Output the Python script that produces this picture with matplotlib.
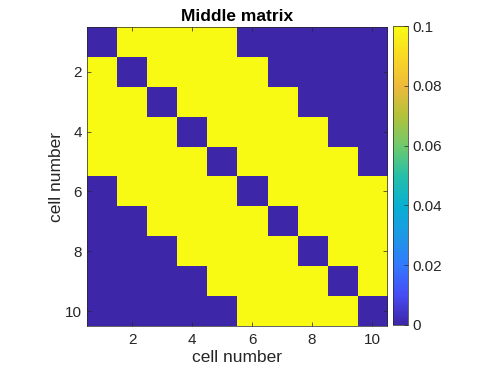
import numpy as np
import matplotlib
matplotlib.use('Agg')
import matplotlib.pyplot as plt
from matplotlib.colors import LinearSegmentedColormap

# cell indices and connection weight
cells = list(range(1, 11))
weight = 0.1
reach = 4  # neighbours within this distance are connected

matrix = np.array([[weight if 0 < abs(i - j) <= reach else 0.0 for j in cells] for i in cells])

# parula-like colormap
parula_pts = [
    (0.00, (0.2422, 0.1504, 0.6603)),
    (0.10, (0.2780, 0.3000, 0.9600)),
    (0.20, (0.2000, 0.4750, 0.9900)),
    (0.30, (0.1100, 0.6000, 0.9000)),
    (0.40, (0.0300, 0.6900, 0.8200)),
    (0.50, (0.1500, 0.7500, 0.6600)),
    (0.60, (0.4400, 0.7900, 0.4200)),
    (0.70, (0.7000, 0.7600, 0.2300)),
    (0.80, (0.9300, 0.7300, 0.2300)),
    (0.90, (0.9800, 0.8500, 0.1400)),
    (1.00, (0.9769, 0.9839, 0.0805)),
]
parula = LinearSegmentedColormap.from_list('parula', parula_pts)

plt.rcParams['font.family'] = ['Liberation Sans', 'DejaVu Sans']
plt.rcParams['text.color'] = '#262626'
plt.rcParams['axes.labelcolor'] = '#262626'
plt.rcParams['xtick.labelcolor'] = '#262626'
plt.rcParams['ytick.labelcolor'] = '#262626'

fig = plt.figure(figsize=(4.98, 3.74), dpi=100)
ax = fig.add_axes([87 / 498, 1 - 326 / 374, 300 / 498, 299 / 374])
im = ax.imshow(matrix, cmap=parula, vmin=0, vmax=weight, aspect='auto',
               extent=[0.5, 10.5, 10.5, 0.5], interpolation='nearest')
ax.set_xticks([2, 4, 6, 8, 10])
ax.set_yticks([2, 4, 6, 8, 10])
ax.tick_params(direction='in', top=True, right=True, labelsize=11, length=3, width=0.5, color='#262626')
ax.tick_params(axis='x', pad=5)
for s in ax.spines.values():
    s.set_linewidth(0.5)
    s.set_color('#262626')
ax.set_xlabel('cell number', fontsize=12.5, labelpad=2)
ax.set_ylabel('cell number', fontsize=12.5, labelpad=1)
ax.set_title('Middle matrix', fontsize=12.5, fontweight='bold', pad=4, color='black')

cax = fig.add_axes([393 / 498, 1 - 325 / 374, 15 / 498, 299 / 374])
cb = fig.colorbar(im, cax=cax)
cb.set_ticks([0, 0.02, 0.04, 0.06, 0.08, 0.1])
cb.set_ticklabels(['0', '0.02', '0.04', '0.06', '0.08', '0.1'])
cax.tick_params(direction='in', labelsize=11, length=3, width=0.5, color='#262626')
cb.outline.set_linewidth(0.5)
cb.outline.set_edgecolor('#262626')

fig.savefig('out.png', dpi=100)
